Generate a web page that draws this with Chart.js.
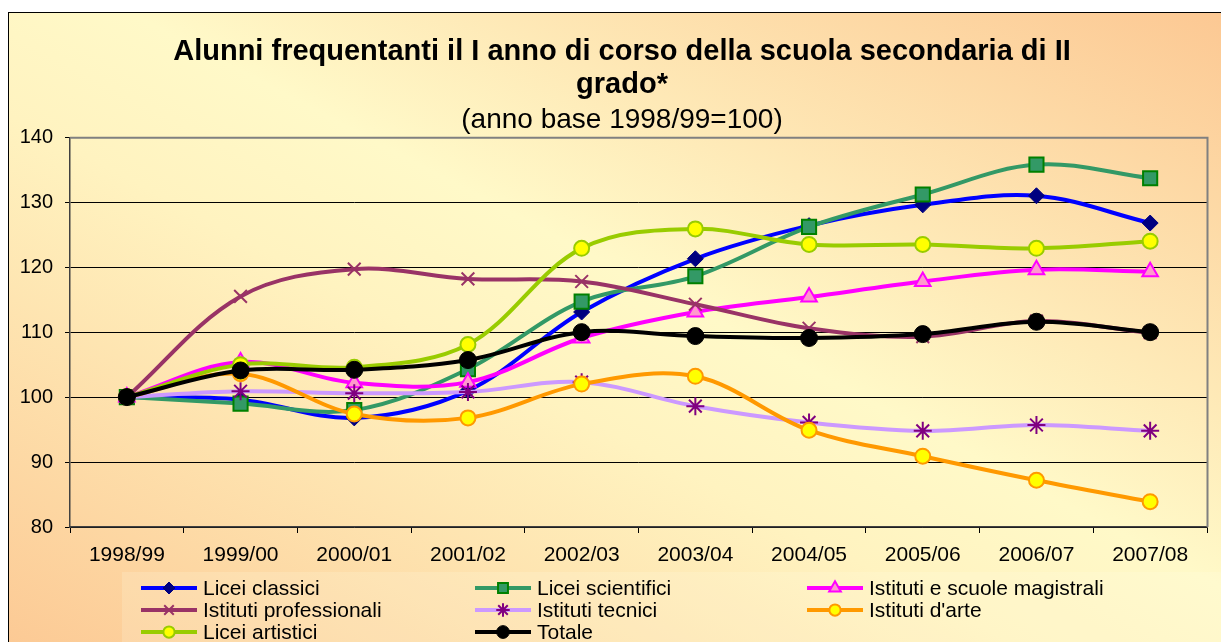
<!DOCTYPE html>
<html>
<head>
<meta charset="utf-8">
<script src="https://cdn.jsdelivr.net/npm/chart.js@4"></script>
<style>
  body { margin: 0; background: #fff; overflow: hidden; }
  #box {
    position: absolute; left: 8px; top: 12px;
    width: 1218px; height: 640px;
    border: 1px solid #000;
    background: linear-gradient(to top right, #fcc994 0%, #fff3c0 42%, #fff9c8 55%, #fcc893 100%);
  }
  canvas { display: block; }
</style>
</head>
<body>
<div id="box"><canvas id="chart" width="1213" height="630"></canvas></div>
<script>
const years = ['1998/99', '1999/00', '2000/01', '2001/02', '2002/03', '2003/04', '2004/05', '2005/06', '2006/07', '2007/08'];

const liceiClassici = [100, 99.6, 96.8, 101.0, 113.1, 121.3, 126.4, 129.6, 131.0, 126.8];
const liceiScientifici = [100, 99.0, 98.0, 104.3, 114.7, 118.6, 126.2, 131.2, 135.8, 133.7];
const istitutiMagistrali = [100, 105.4, 102.2, 102.3, 109.1, 113.1, 115.4, 117.8, 119.6, 119.3];
const istitutiProfessionali = [100, 115.5, 119.7, 118.2, 117.8, 114.3, 110.6, 109.3, 111.7, 109.9];
const istitutiTecnici = [100, 100.9, 100.6, 100.8, 102.3, 98.6, 96.1, 94.8, 95.7, 94.8];
const istitutiArte = [100, 103.6, 97.4, 96.8, 102.0, 103.2, 94.9, 90.9, 87.2, 83.9];
const liceiArtistici = [100, 105.0, 104.6, 108.1, 122.9, 125.9, 123.5, 123.5, 122.9, 124.0];
const totale = [100, 104.1, 104.2, 105.7, 110.0, 109.4, 109.1, 109.7, 111.6, 110.0];

const yTicks = [80, 90, 100, 110, 120, 130, 140];

const FONT = '"Liberation Sans", Arial, sans-serif';

function series(label, data, line, style, fill, border, radius, bw) {
    return {
        label: label,
        data: data,
        borderColor: line,
        backgroundColor: line,
        borderWidth: 4,
        tension: 0.35,
        pointStyle: style,
        pointRadius: radius,
        pointHoverRadius: radius,
        pointBackgroundColor: fill,
        pointBorderColor: border,
        pointBorderWidth: bw
    };
}

const datasets = [
    series('Licei classici', liceiClassici, '#0000ff', 'rectRot', '#000080', '#000080', 8, 1),
    series('Licei scientifici', liceiScientifici, '#339966', 'rect', '#339966', '#008000', 10, 2),
    series('Istituti e scuole magistrali', istitutiMagistrali, '#ff00ff', 'triangle', '#ff99cc', '#ff00ff', 9, 2),
    series('Istituti professionali', istitutiProfessionali, '#993366', 'crossRot', '#993366', '#993366', 9, 2),
    series('Istituti tecnici', istitutiTecnici, '#cc99ff', 'star', '#800080', '#800080', 9, 2),
    series("Istituti d'arte", istitutiArte, '#ff9900', 'circle', '#ffff00', '#ff9900', 7.5, 2),
    series('Licei artistici', liceiArtistici, '#99cc00', 'circle', '#ffff00', '#99cc00', 7.5, 2),
    series('Totale', totale, '#000000', 'circle', '#000000', '#000000', 8.5, 1)
];
// later series drawn on top, like the original
datasets.forEach((ds, i) => { ds.order = datasets.length - i; });

// titles are centred a little right of the canvas middle
const shiftTitles = {
    id: 'shiftTitles',
    afterLayout(chart) {
        chart.boxes.forEach(b => {
            if (b.options && b.options.text !== undefined && b.options.display) b.left += 28;
        });
    }
};

const plotFrame = {
    id: 'plotFrame',
    beforeDatasetsDraw(chart) {
        const { ctx, chartArea: a } = chart;
        ctx.save();
        ctx.strokeStyle = '#808080';
        ctx.lineWidth = 2;
        ctx.beginPath();
        ctx.moveTo(a.left, a.top + 0.5);
        ctx.lineTo(a.right + 0.5, a.top + 0.5);
        ctx.lineTo(a.right + 0.5, a.bottom);
        ctx.stroke();
        ctx.restore();
    }
};

const columnLegend = {
    id: 'columnLegend',
    afterDraw(chart) {
        const ctx = chart.ctx;
        const colX = [132, 466, 798];
        const rowY = [575, 597, 619];
        ctx.save();
        ctx.fillStyle = 'rgba(255,255,235,0.18)';
        ctx.fillRect(113, 559, 1100, 80);
        ctx.font = '21px ' + FONT;
        ctx.textBaseline = 'middle';
        chart.data.datasets.forEach((ds, i) => {
            const x = colX[i % 3];
            const y = rowY[Math.floor(i / 3)];
            ctx.strokeStyle = ds.borderColor;
            ctx.lineWidth = 4;
            ctx.beginPath();
            ctx.moveTo(x, y);
            ctx.lineTo(x + 56, y);
            ctx.stroke();
            ctx.fillStyle = ds.pointBackgroundColor;
            ctx.strokeStyle = ds.pointBorderColor;
            ctx.lineWidth = ds.pointBorderWidth;
            Chart.helpers.drawPoint(ctx, {
                pointStyle: ds.pointStyle,
                radius: Math.min(ds.pointRadius * 0.75, 7),
                rotation: 0,
                borderWidth: ds.pointBorderWidth
            }, x + 28, y);
            ctx.fillStyle = '#000';
            ctx.fillText(ds.label, x + 62, y + 1);
        });
        ctx.restore();
    }
};

new Chart(document.getElementById('chart'), {
    type: 'line',
    data: { labels: years, datasets: datasets },
    options: {
        responsive: false,
        animation: false,
        layout: { padding: { left: 0, right: 15, top: 0, bottom: 0 } },
        plugins: {
            legend: { display: false },
            tooltip: { enabled: false },
            title: {
                display: true,
                text: ['Alunni frequentanti il I anno di corso della scuola secondaria di II', 'grado*'],
                color: '#000',
                font: { family: FONT, size: 29, weight: 'bold', lineHeight: 1.15 },
                padding: { top: 22, bottom: 2 }
            },
            subtitle: {
                display: true,
                text: '(anno base 1998/99=100)',
                color: '#000',
                font: { family: FONT, size: 28, lineHeight: 1.2 },
                padding: { top: 0, bottom: 0 }
            }
        },
        scales: {
            x: {
                offset: true,
                afterFit(scale) { scale.height = 116; },
                grid: { offset: true, drawOnChartArea: false, color: '#000', tickLength: 6, tickColor: '#000' },
                border: { color: '#404040', width: 1.5 },
                ticks: { color: '#000', padding: 10, maxRotation: 0, font: { family: FONT, size: 21 } }
            },
            y: {
                min: 80,
                max: 140,
                afterFit(scale) { scale.width = 61; },
                afterBuildTicks(scale) { scale.ticks = yTicks.map(v => ({ value: v })); },
                grid: { color: '#000', lineWidth: 1, tickLength: 5 },
                border: { color: '#404040', width: 1.5 },
                ticks: { color: '#000', padding: 12, font: { family: FONT, size: 20 } }
            }
        }
    },
    plugins: [shiftTitles, plotFrame, columnLegend]
});
</script>
</body>
</html>
